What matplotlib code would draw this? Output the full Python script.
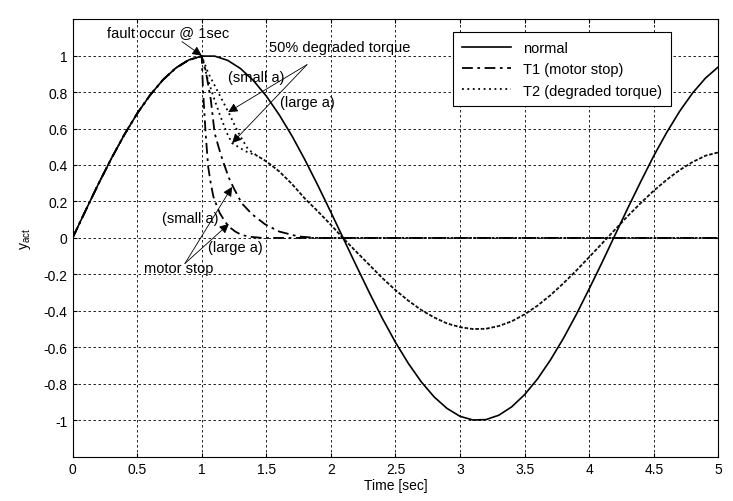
import numpy as np
import matplotlib
matplotlib.use('Agg')
import matplotlib.pyplot as plt

plt.rcParams['font.family'] = ['Liberation Sans', 'DejaVu Sans']
plt.rcParams['font.size'] = 10
plt.rcParams['mathtext.default'] = 'regular'
plt.rcParams['axes.unicode_minus'] = False

# normal response, read every 0.1 s
t_normal = np.linspace(0, 5, 51)
y_normal = [0.0, 0.149, 0.296, 0.435, 0.565, 0.682, 0.783, 0.867, 0.932, 0.976,
            0.997, 0.997, 0.974, 0.929, 0.863, 0.778, 0.675, 0.558, 0.427, 0.287,
            0.141, -0.008, -0.157, -0.303, -0.443, -0.572, -0.688, -0.789, -0.872, -0.935,
            -0.978, -0.998, -0.996, -0.972, -0.926, -0.859, -0.773, -0.669, -0.551, -0.420,
            -0.279, -0.134, 0.016, 0.165, 0.310, 0.450, 0.578, 0.694, 0.794, 0.876,
            0.938]

# T1 (motor stop), after the fault at 1 s
t_t1_small = [1.0, 1.03, 1.07, 1.10, 1.13, 1.16, 1.21, 1.25, 1.31, 1.39, 1.49, 1.60, 1.75, 1.9, 5.0]
y_t1_small = [0.997, 0.92, 0.76, 0.575, 0.50, 0.43, 0.33, 0.27, 0.19, 0.13, 0.075, 0.035, 0.008, 0.0, 0.0]
t_t1_large = [1.0, 1.01, 1.03, 1.05, 1.07, 1.09, 1.12, 1.14, 1.18, 1.21, 1.26, 1.31, 1.38, 1.47, 5.0]
y_t1_large = [0.997, 0.81, 0.575, 0.39, 0.30, 0.227, 0.17, 0.136, 0.09, 0.062, 0.035, 0.016, 0.006, 0.0, 0.0]

# T2 (degraded torque), transient part after the fault
t_t2_small = [1.0, 1.05, 1.13, 1.21, 1.285, 1.36, 1.43]
y_t2_small = [0.997, 0.905, 0.795, 0.685, 0.575, 0.485, 0.45]
t_t2_large = [1.0, 1.04, 1.09, 1.14, 1.195, 1.235, 1.34, 1.43]
y_t2_large = [0.997, 0.886, 0.776, 0.676, 0.575, 0.52, 0.475, 0.45]
# common tail of both T2 curves
t_t2_tail = np.linspace(1.5, 5, 36)
y_t2_tail = [0.42, 0.365, 0.295, 0.215, 0.145, 0.072, -0.005, -0.078, -0.149, -0.221,
             -0.286, -0.344, -0.395, -0.436, -0.469, -0.489, -0.4995, -0.498, -0.483, -0.457,
             -0.419, -0.371, -0.314, -0.249, -0.179, -0.105, -0.030, 0.046, 0.121, 0.192,
             0.259, 0.319, 0.372, 0.416, 0.451, 0.469]

pre = t_normal <= 1.0
t_pre = t_normal[pre]
y_pre = np.array(y_normal)[pre]

dashdot = (0, (6, 2.5, 1.5, 2.5))
dotted = (0, (1, 2))

fig = plt.figure(figsize=(7.33, 5.02), dpi=100)
ax = fig.add_axes([0.099, 0.088, 0.881, 0.872])

ax.plot(t_normal, y_normal, color='k', lw=1.2, label='normal')
ax.plot(np.r_[t_pre, t_t1_small[1:]], np.r_[y_pre, y_t1_small[1:]], color='k', lw=1.3,
        linestyle=dashdot, label='T1 (motor stop)')
ax.plot(np.r_[t_pre, t_t1_large[1:]], np.r_[y_pre, y_t1_large[1:]], color='k', lw=1.3,
        linestyle=dashdot)
ax.plot(np.r_[t_pre, t_t2_small[1:], t_t2_tail], np.r_[y_pre, y_t2_small[1:], y_t2_tail],
        color='k', lw=1.3, linestyle=dotted, label='T2 (degraded torque)')
ax.plot(np.r_[t_t2_large, t_t2_tail], np.r_[y_t2_large, y_t2_tail],
        color='k', lw=1.3, linestyle=dotted)

ax.set_xlim(0, 5)
ax.set_ylim(-1.2, 1.2)
ax.set_xticks(np.arange(0, 5.01, 0.5))
ax.set_xticklabels(['0', '0.5', '1', '1.5', '2', '2.5', '3', '3.5', '4', '4.5', '5'])
yt = np.round(np.arange(-1, 1.01, 0.2), 1)
ax.set_yticks(yt)
ax.set_yticklabels(['%g' % (v + 0.0) if abs(v) > 1e-9 else '0' for v in yt])
ax.tick_params(direction='in', top=True, right=True, length=3, labelsize=10)
ax.grid(True, color='k', linestyle=(0, (3, 3)), linewidth=0.6)
for s in ax.spines.values():
    s.set_linewidth(0.8)

ax.set_xlabel('Time [sec]', labelpad=2)
ax.set_ylabel(r'y$_{act}$', labelpad=8)

arrow = dict(arrowstyle='-|>', color='k', lw=0.6, mutation_scale=14, shrinkA=0, shrinkB=0)

ax.annotate('fault occur @ 1sec', xy=(1.0, 1.0), xytext=(0.74, 1.13), ha='center', va='center',
            fontsize=10.5, arrowprops=arrow)
ax.text(2.07, 1.045, '50% degraded torque', ha='center', va='center', fontsize=10.5)
ax.annotate('', xy=(1.205, 0.69), xytext=(1.815, 0.95), arrowprops=arrow)
ax.annotate('', xy=(1.235, 0.52), xytext=(1.815, 0.95), arrowprops=arrow)
ax.text(1.42, 0.885, '(small a)', ha='center', va='center', fontsize=10.5)
ax.text(1.82, 0.745, '(large a)', ha='center', va='center', fontsize=10.5)

ax.text(0.91, 0.11, '(small a)', ha='center', va='center', fontsize=10.5)
ax.text(1.26, -0.05, '(large a)', ha='center', va='center', fontsize=10.5)
ax.text(0.82, -0.167, 'motor stop', ha='center', va='center', fontsize=10.5)
ax.annotate('', xy=(1.235, 0.28), xytext=(0.87, -0.14), arrowprops=arrow)
ax.annotate('', xy=(1.21, 0.077), xytext=(0.87, -0.14), arrowprops=arrow)

leg = ax.legend(loc='upper right', bbox_to_anchor=(0.926, 0.970), borderaxespad=0,
                fancybox=False, edgecolor='k', framealpha=1, handlelength=3.4,
                borderpad=0.6, labelspacing=0.5, fontsize=10.5)
leg.get_frame().set_linewidth(0.8)

fig.savefig('out.png', dpi=100)
